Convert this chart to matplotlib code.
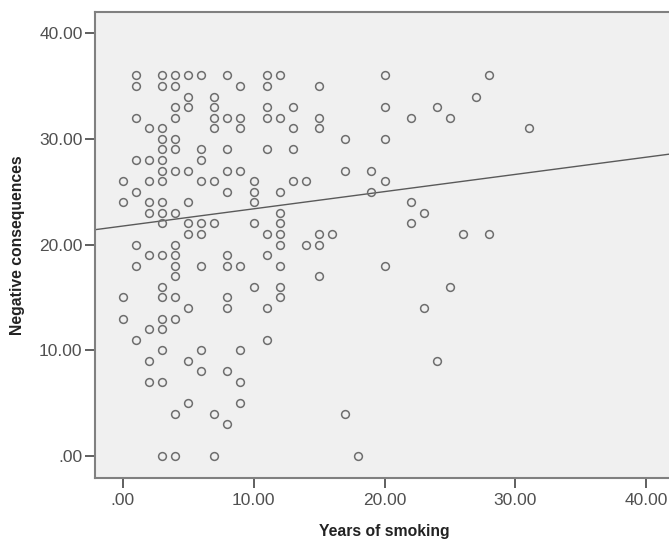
import numpy as np
import matplotlib
matplotlib.use("Agg")
import matplotlib.pyplot as plt
from matplotlib.ticker import FixedLocator, FuncFormatter

plt.rcParams['font.family'] = ['Liberation Sans', 'DejaVu Sans']

# one line per level of "Negative consequences"
years_of_smoking = [
    1, 3, 4, 5, 6, 8, 11, 12, 20, 28,
    1, 3, 4, 9, 11, 15,
    5, 7, 27,
    4, 5, 7, 11, 13, 20, 24,
    1, 4, 7, 8, 9, 11, 12, 15, 22, 25,
    2, 3, 7, 9, 13, 15, 31,
    3, 4, 17, 20,
    3, 4, 6, 8, 11, 13,
    1, 2, 3, 6,
    3, 4, 5, 8, 9, 17, 19,
    0, 2, 3, 6, 7, 10, 13, 14, 20,
    1, 8, 10, 12, 19,
    0, 2, 3, 5, 10, 22,
    2, 3, 4, 12, 23,
    3, 5, 6, 7, 10, 12, 22,
    5, 6, 11, 12, 15, 16, 26, 28,
    1, 4, 12, 14, 15,
    2, 3, 4, 8, 11,
    1, 4, 6, 8, 9, 12, 20,
    4, 15,
    3, 10, 12, 25,
    0, 3, 4, 8, 12,
    5, 8, 11, 23,
    0, 3, 4,
    2, 3,
    1, 11,
    3, 6, 9,
    2, 5, 24,
    6, 8,
    2, 3, 9,
    5, 9,
    4, 7, 17,
    8,
    3, 4, 7, 18,
]
negative_consequences = [
    36, 36, 36, 36, 36, 36, 36, 36, 36, 36,
    35, 35, 35, 35, 35, 35,
    34, 34, 34,
    33, 33, 33, 33, 33, 33, 33,
    32, 32, 32, 32, 32, 32, 32, 32, 32, 32,
    31, 31, 31, 31, 31, 31, 31,
    30, 30, 30, 30,
    29, 29, 29, 29, 29, 29,
    28, 28, 28, 28,
    27, 27, 27, 27, 27, 27, 27,
    26, 26, 26, 26, 26, 26, 26, 26, 26,
    25, 25, 25, 25, 25,
    24, 24, 24, 24, 24, 24,
    23, 23, 23, 23, 23,
    22, 22, 22, 22, 22, 22, 22,
    21, 21, 21, 21, 21, 21, 21, 21,
    20, 20, 20, 20, 20,
    19, 19, 19, 19, 19,
    18, 18, 18, 18, 18, 18, 18,
    17, 17,
    16, 16, 16, 16,
    15, 15, 15, 15, 15,
    14, 14, 14, 14,
    13, 13, 13,
    12, 12,
    11, 11,
    10, 10, 10,
    9, 9, 9,
    8, 8,
    7, 7, 7,
    5, 5,
    4, 4, 4,
    3,
    0, 0, 0, 0,
]

# fit line
fit_intercept = 21.75
fit_slope = 0.163

tick_values = [0, 10, 20, 30, 40]


def spss_label(v, pos):
    s = f"{v:.2f}"
    return s[1:] if s.startswith("0") else s


fig = plt.figure(figsize=(6.69, 5.44), dpi=100)
ax = fig.add_axes([95 / 669, 66 / 544, 579 / 669, 466 / 544])
ax.set_facecolor("#f0f0f0")

x = np.array(years_of_smoking)
y = np.array(negative_consequences)
ax.plot(x, y, linestyle="none", marker="o", markersize=5.6,
        markerfacecolor="none", markeredgecolor="#6e6e6e",
        markeredgewidth=1.1, zorder=3)

# regression line
ax.axline((0, fit_intercept), slope=fit_slope, color="#5a5a5a",
          linewidth=1.0, zorder=2)

ax.set_xlim(-2.1, 42.1)
ax.set_ylim(-2.08, 42.0)

for axis in (ax.xaxis, ax.yaxis):
    axis.set_major_locator(FixedLocator(tick_values))
    axis.set_major_formatter(FuncFormatter(spss_label))

ax.tick_params(axis="both", direction="out", length=7, width=1.2,
               color="#444444", labelsize=12.5, labelcolor="#505050", pad=2)
ax.tick_params(axis="x", pad=4)

for side in ["left", "bottom", "top", "right"]:
    ax.spines[side].set_color("#808080")
    ax.spines[side].set_linewidth(1.5)

ax.set_xlabel("Years of smoking", fontsize=11.3, fontweight="bold",
              color="#222222")
ax.set_ylabel("Negative consequences", fontsize=11.3, fontweight="bold",
              color="#222222")
ax.xaxis.label.set_va("center")
ax.xaxis.set_label_coords(0.5, -0.115)
ax.yaxis.label.set_va("center")
ax.yaxis.set_label_coords(-0.133, 0.5)

fig.savefig("out.png", dpi=100)
